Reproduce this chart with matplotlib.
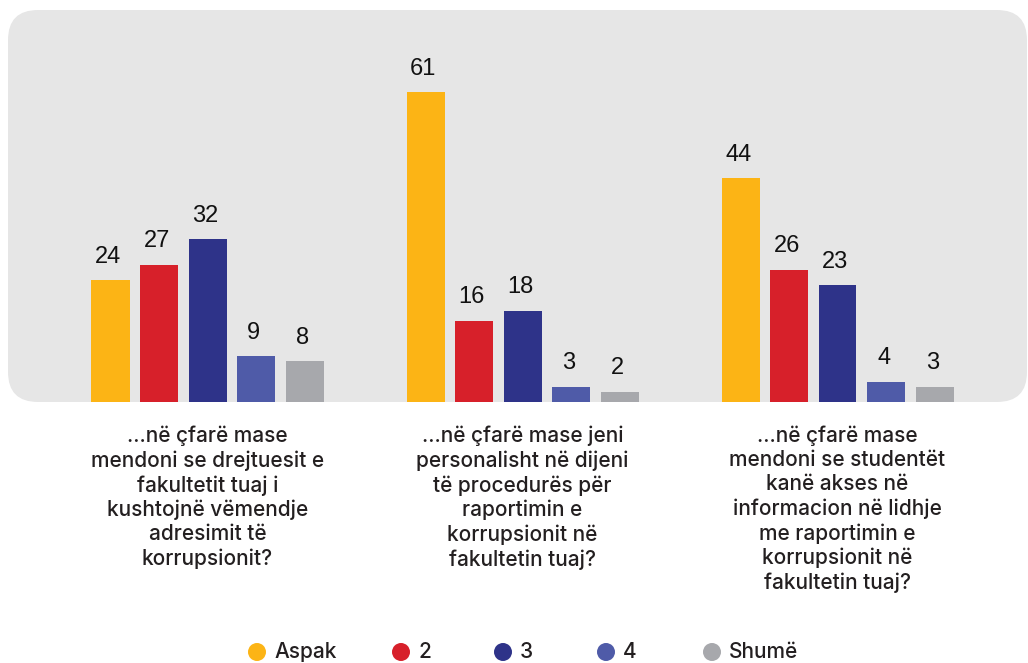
import matplotlib
matplotlib.use("Agg")
import matplotlib.pyplot as plt
from matplotlib.patches import FancyBboxPatch, Circle
import numpy as np

# Survey data: share of answers (%) per question, scale 1 (Aspak) .. 5 (Shumë)
questions = [
    "...në çfarë mase\nmendoni se drejtuesit e\nfakultetit tuaj i\nkushtojnë vëmendje\nadresimit të\nkorrupsionit?",
    "...në çfarë mase jeni\npersonalisht në dijeni\ntë procedurës për\nraportimin e\nkorrupsionit në\nfakultetin tuaj?",
    "...në çfarë mase\nmendoni se studentët\nkanë akses në\ninformacion në lidhje\nme raportimin e\nkorrupsionit në\nfakultetin tuaj?",
]
series_names = ["Aspak", "2", "3", "4", "Shumë"]
aspak = [24, 61, 44]
two = [27, 16, 26]
three = [32, 18, 23]
four = [9, 3, 4]
shume = [8, 2, 3]
series_values = [aspak, two, three, four, shume]
colors = ["#FCB415", "#D7202A", "#2E3389", "#4F5BA8", "#A7A8AC"]

W, H = 1028, 663
fig = plt.figure(figsize=(W / 100, H / 100), dpi=100)
fig.patch.set_facecolor("white")

ax_bottom = 1 - 402 / H
ax_top = 1 - 10 / H
ax = fig.add_axes([0, ax_bottom, 1, ax_top - ax_bottom])
ax.set_facecolor("none")
for s in ax.spines.values():
    s.set_visible(False)
ax.set_xticks([])
ax.set_yticks([])

# rounded grey panel behind the bars (figure pixel coordinates)
panel = FancyBboxPatch((8, H - 402), 1019, 392,
                       boxstyle="round,pad=0,rounding_size=30",
                       transform=None, facecolor="#E6E6E6", edgecolor="none",
                       zorder=0, clip_on=False)
ax.add_patch(panel)

group_gap = 315.0
step = 48.5 / group_gap
width = 38.0 / group_gap
centers = np.arange(len(questions))
ax.set_xlim(-207.5 / group_gap, (W - 207.5) / group_gap)
ax.set_ylim(0, 392 / 5.08)

for i, (name, vals, c) in enumerate(zip(series_names, series_values, colors)):
    xs = centers + (i - 2) * step
    bars = ax.bar(xs, vals, width=width, color=c, zorder=2, label=name)
    for b, v in zip(bars, vals):
        ax.annotate(f"{v}", (b.get_x() + b.get_width() / 2, v),
                    xytext=(-1.5, 9), textcoords="offset points",
                    ha="center", va="bottom", fontsize=17,
                    family="Liberation Sans", color="#111111")

# question labels under each group
for c, q in zip(centers, questions):
    xf = (c * group_gap + 207.5) / W
    fig.text(xf, 1 - 426 / H, q, ha="center", va="top", fontsize=15,
             family="Inter", fontweight="medium", color="#231F20",
             linespacing=1.25)

# legend row
legend_marker_x = [257, 401, 503, 606, 712]
ly = 1 - 652 / H
for mx, name, c in zip(legend_marker_x, series_names, colors):
    fig.patches.append(Circle((mx, H - 652), 9, transform=None,
                              facecolor=c, edgecolor="none"))
    fig.text((mx + 17) / W, ly, name, ha="left", va="center", fontsize=15,
             family="Inter", fontweight="medium", color="#231F20")

fig.savefig("out.png", dpi=100, facecolor="white")
